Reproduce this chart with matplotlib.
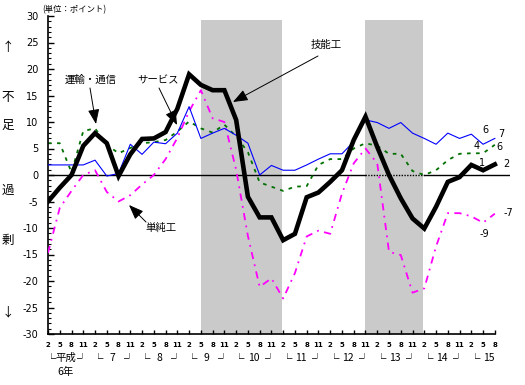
import matplotlib
matplotlib.use("Agg")
import matplotlib.pyplot as plt
import matplotlib.transforms as mtransforms
import numpy as np

plt.rcParams["font.family"] = ["Noto Sans CJK JP", "DejaVu Sans"]

# quarters: 平成6年2月 ... 平成15年8月
quarter_labels = ["2", "5", "8", "11"] * 9 + ["2", "5", "8"]
year_labels = ["平成", "7", "8", "9", "10", "11", "12", "13", "14", "15"]

# (単位：ポイント)
skilled = [-5.0, -2.4, 0.0, 5.5, 7.9, 6.0, -0.2, 3.9, 6.8, 6.9,
           8.1, 12.5, 19.0, 17.0, 16.0, 16.0, 10.4, -4.1, -8.0, -8.0,
           -12.3, -11.1, -4.2, -3.3, -1.3, 0.9, 6.6, 11.0, 5.3, 0.0,
           -4.4, -8.2, -10.1, -6.0, -1.3, -0.4, 1.9, 0.9, 2.0]
transport = [1.9, 1.9, 1.9, 1.9, 2.8, -0.2, 0.3, 5.8, 3.9, 6.2,
             5.9, 7.9, 12.9, 6.9, 7.9, 8.8, 7.5, 6.0, 0.0, 1.8,
             0.9, 0.9, 1.9, 3.0, 4.0, 4.0, 6.3, 10.4, 9.9, 8.8,
             9.9, 7.9, 6.9, 5.8, 7.9, 6.9, 7.7, 5.8, 6.9]
service = [6.0, 6.0, 0.5, 8.3, 8.8, 5.7, 4.1, 5.1, 6.0, 6.2,
           6.6, 8.2, 10.1, 8.8, 8.0, 9.5, 7.3, 4.3, -1.4, -2.2,
           -3.0, -2.2, -2.1, 1.9, 3.0, 3.0, 5.0, 6.0, 5.5, 4.0,
           4.0, 0.75, 0.0, 0.9, 2.8, 4.0, 4.1, 4.1, 5.7]
unskilled = [-14.7, -6.2, -3.0, 0.0, 0.9, -3.2, -5.0, -3.8, -1.8, 0.0,
             3.0, 7.0, 12.0, 16.0, 10.7, 10.0, 1.0, -11.5, -21.1, -19.5,
             -23.3, -18.5, -11.6, -10.5, -11.1, -3.5, 2.2, 5.0, 2.2, -14.5,
             -15.1, -22.2, -21.4, -13.5, -7.2, -7.2, -7.8, -9.0, -7.3]

# 景気後退期 (quarter index)
recessions = [(13, 19.9), (27, 31.9)]

x = np.arange(len(skilled))

fig = plt.figure(figsize=(5.25, 3.85), dpi=100)
ax = fig.add_axes([48 / 525, 51 / 385, 462 / 525, 318 / 385])
ax.set_xlim(0, 39.29)
ax.set_ylim(-30, 30)


def img_to_data(px, py):
    # image pixel (top-left origin) -> data coords
    return ax.transData.inverted().transform((px, 385 - py))


for start, end in recessions:
    ax.fill_between([start, end], -30, 29.2, color="#cacaca", lw=0, zorder=0)

# zero line (looks dotted inside the second shaded band)
ax.plot([0, 27], [0, 0], color="black", lw=1.0, zorder=1)
ax.plot([27, 32], [0, 0], color="black", lw=1.0, ls=(0, (1, 1)), zorder=1)
ax.plot([32, 39.29], [0, 0], color="black", lw=1.0, zorder=1)

ax.plot(x, service, color="#007000", lw=1.3, ls=(0, (2, 3)), zorder=2)
ax.plot(x, unskilled, color="#ff00ff", lw=1.3, ls=(0, (4, 3, 1, 3)), zorder=3)
ax.plot(x, transport, color="#0000ff", lw=0.8, zorder=4)
ax.plot(x, skilled, color="black", lw=3.3, solid_joinstyle="miter", zorder=5)

# spines and ticks
for side in ("top", "right"):
    ax.spines[side].set_visible(False)
ax.spines["left"].set_linewidth(1.2)
ax.spines["bottom"].set_linewidth(1.2)
ax.spines["bottom"].set_bounds(0, 38)

ax.set_yticks(np.arange(-30, 31, 5))
ax.set_yticks(np.arange(-30, 31, 1), minor=True)
ax.tick_params(axis="y", which="major", direction="in", length=4, width=1,
               labelsize=7, pad=7)
ax.tick_params(axis="y", which="minor", direction="in", length=2.2, width=0.8)
ax.set_yticklabels([str(v) for v in range(-30, 31, 5)], family="DejaVu Sans")

ax.set_xticks(x)
ax.set_xticklabels(quarter_labels, family="DejaVu Sans", fontweight="bold")
ax.tick_params(axis="x", direction="in", length=3, width=1, labelsize=5, pad=6)

# year row under the quarter labels
trans = mtransforms.blended_transform_factory(ax.transData, ax.transAxes)
for k, label in enumerate(year_labels):
    base = 4 * k
    ax.text(base + 0.3, -0.076, "└", transform=trans, ha="center", va="center",
            fontsize=7.5)
    ax.text(base + 1.5, -0.076, label, transform=trans, ha="center",
            va="center", fontsize=7.5)
    if k < len(year_labels) - 1:
        ax.text(base + 2.9, -0.076, "┘", transform=trans, ha="center",
                va="center", fontsize=7.5)
ax.text(1.5, -0.118, "6年", transform=trans, ha="center", va="center",
        fontsize=7.5)

# end-of-series value labels
for series, prev_xy, last_xy in [
    (transport, (485, 130), (501, 134)),
    (service, (477, 146), (499, 147)),
    (skilled, (482, 163), (506, 164)),
    (unskilled, (484, 234), (508, 213)),
]:
    ax.text(*img_to_data(*prev_xy), f"{round(series[-2]):d}", ha="center",
            va="center", fontsize=7, family="DejaVu Sans")
    ax.text(*img_to_data(*last_xy), f"{round(series[-1]):d}", ha="center",
            va="center", fontsize=7, family="DejaVu Sans")

# callouts
arrow = dict(arrowstyle="-|>,head_length=0.9,head_width=0.35", color="black",
             lw=0.7, mutation_scale=10, shrinkA=0, shrinkB=0)
callouts = [
    ("運輸・通信", (91, 80), (90, 88), (96, 124)),
    ("サービス", (158, 80), (159, 88), (177, 125)),
    ("技能工", (326, 45), (318, 56), (233, 102)),
    ("単純工", (161, 228), (146, 222), (129, 205)),
]
for text, text_xy, tail, tip in callouts:
    ax.text(*img_to_data(*text_xy), text, ha="center", va="center",
            fontsize=7.5)
    ax.annotate("", xy=img_to_data(*tip), xytext=img_to_data(*tail),
                arrowprops=arrow)

fig.text(74 / 525, 1 - 10 / 385, "(単位：ポイント)", ha="center", va="center",
         fontsize=6)
for ch, py in [("↑", 47), ("不", 97), ("足", 125), ("過", 190), ("剰", 240),
               ("↓", 312)]:
    fig.text(8 / 525, 1 - py / 385, ch, ha="center", va="center", fontsize=9)

fig.savefig("out.png", dpi=100)
plt.close(fig)
